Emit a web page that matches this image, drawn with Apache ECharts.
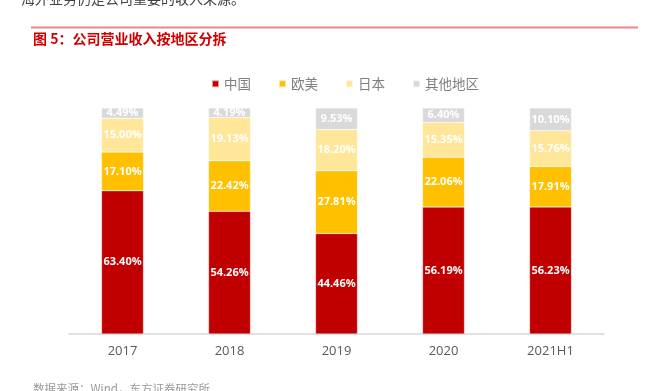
<!DOCTYPE html>
<html><head><meta charset="utf-8">
<script src="https://cdn.jsdelivr.net/npm/echarts@6/dist/echarts.min.js"></script>
<style>html,body{margin:0;padding:0;background:#fff}#c{width:649px;height:391px}</style>
</head><body><div id="c"></div>
<script>
const categories = ['2017','2018','2019','2020','2021H1'];
const seriesNames = ['中国','欧美','日本','其他地区'];
const china = [63.40,54.26,44.46,56.19,56.23];
const euam = [17.10,22.42,27.81,22.06,17.91];
const japan = [15.00,19.13,18.20,15.35,15.76];
const other = [4.49,4.19,9.53,6.40,10.10];
const colors = ['#C00000','#FFC000','#FFE699','#D9D9D9'];
const values = [china, euam, japan, other];
const font = '"Noto Sans CJK SC","Noto Sans",sans-serif';
const chart = echarts.init(document.getElementById('c'));
chart.setOption({
  animation:false,
  textStyle:{fontFamily:font},
  graphic:[
    {type:'text',left:21,top:-8,style:{text:'海外业务仍是公司重要的收入来源。',fill:'#404040',font:'14px '+font}},
    {type:'rect',shape:{x:31,y:26.5,width:607,height:2},style:{fill:'#E98686'}},
    {type:'text',left:33,top:32,style:{text:'图 5：公司营业收入按地区分拆',fill:'#D00000',font:'bold 14px '+font}},
    {type:'text',left:33,top:383,style:{text:'数据来源：Wind，东方证券研究所',fill:'#9a9a9a',font:'11.5px '+font}}
  ],
  legend:{top:72,left:206,itemWidth:7,itemHeight:7,itemGap:27,icon:'rect',
    textStyle:{color:'#7F7F7F',fontSize:13.5,fontFamily:font},data:seriesNames},
  grid:{left:69,right:45,top:108,bottom:57,containLabel:false},
  xAxis:{type:'category',data:categories,axisTick:{show:false},
    axisLine:{lineStyle:{color:'#D9D9D9',width:1.5}},
    axisLabel:{color:'#595959',fontSize:13,margin:11,fontFamily:'"Open Sans",sans-serif'}},
  yAxis:{type:'value',min:0,max:100,show:false,splitLine:{show:false}},
  series:values.map((v,i)=>({
    name:seriesNames[i],type:'bar',stack:'s',data:v,barWidth:42,
    itemStyle:{color:colors[i],borderColor:'rgba(255,255,255,0.6)',borderWidth:0.5},
    label:{show:true,position:'inside',color:'#fff',fontWeight:'bold',fontSize:11,
      fontFamily:'"Open Sans",sans-serif',formatter:p=>p.value.toFixed(2)+'%'}
  }))
});
</script></body></html>
